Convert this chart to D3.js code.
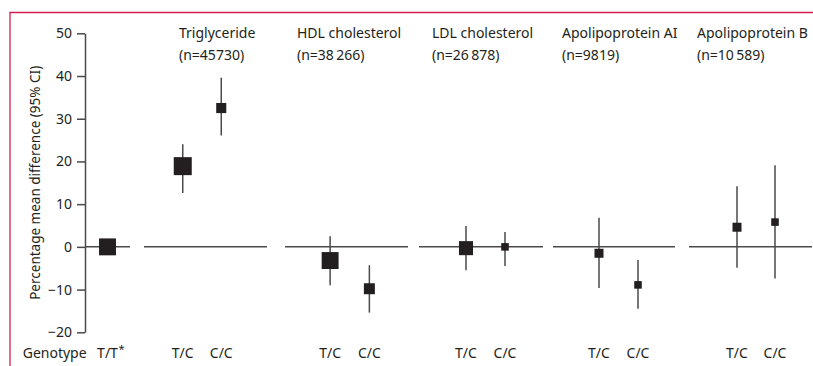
<!DOCTYPE html>
<html>
<head>
<meta charset="utf-8">
<script src="https://cdn.jsdelivr.net/npm/d3@7"></script>
<style>
  body { margin: 0; background: #fff; }
  svg { display: block; }
</style>
</head>
<body>
<div id="chart"></div>
<script>
// outcomes and their sample sizes (column headers)
const outcomes = ["Triglyceride", "HDL cholesterol", "LDL cholesterol", "Apolipoprotein AI", "Apolipoprotein B"];
const sampleLabels = ["(n=45730)", "(n=38\u2009266)", "(n=26\u2009878)", "(n=9819)", "(n=10\u2009589)"];
const genotypes = ["T/C", "C/C"];
const refGenotype = "T/T";

// percentage mean difference vs T/T, with 95% CI
const tcMean = [18.9, -3.2, -0.3, -1.5, 4.6];
const tcLow  = [12.6, -9.0, -5.5, -9.6, -4.9];
const tcHigh = [24.0, 2.5, 4.9, 6.8, 14.2];
const ccMean = [32.5, -9.8, 0.0, -8.9, 5.8];
const ccLow  = [26.1, -15.4, -4.5, -14.5, -7.4];
const ccHigh = [39.6, -4.3, 3.5, -3.1, 19.1];
// relative weight of each estimate (drives square size)
const tcWeight = [100, 94, 78, 50, 50];
const ccWeight = [56, 61, 42, 42, 42];
const refWeight = 94;

const yTicks = [-20, -10, 0, 10, 20, 30, 40, 50];

const width = 813, height = 366;
const ink = "#231f20", lineCol = "#4a4a4a";
const font = "'Noto Sans', 'Open Sans', sans-serif";

// panel layout: zero line extent, band used by the genotype scale, header x
const axisX = 85;
const refPanel = { line: [axisX, 130], band: [axisX, 130] };
const panels = [
  { line: [144, 267], band: [163.5, 240.5], title: 179 },
  { line: [285, 408], band: [310.5, 389], title: 297 },
  { line: [419, 543], band: [446.5, 524.5], title: 432 },
  { line: [553, 675], band: [579.5, 657.5], title: 562 },
  { line: [689, 812], band: [718, 794], title: 697 }
];

const svg = d3.select("#chart").append("svg")
  .attr("width", width)
  .attr("height", height)
  .attr("font-family", font)
  .style("fill", ink);

// red frame
svg.append("path")
  .attr("d", `M10,${height} V12.5 H${width}`)
  .attr("fill", "none")
  .attr("stroke", "#cc2052")
  .attr("stroke-width", 1.3);

const y = d3.scaleLinear().domain([-20, 50]).range([332.3, 33.3]);
const size = d3.scaleLinear().domain([0, 100]).range([0, 18]);

const axis = svg.append("g")
  .attr("transform", `translate(${axisX},0)`)
  .call(d3.axisLeft(y).tickValues(yTicks).tickSize(8).tickSizeOuter(0).tickPadding(5));
axis.selectAll("path, line").attr("stroke", lineCol).attr("stroke-width", 1.5);
axis.selectAll("text")
  .attr("font-size", 14)
  .attr("font-family", font)
  .attr("fill", ink);

svg.append("text")
  .attr("transform", `translate(39.5,${(y(-20) + y(50)) / 2}) rotate(-90)`)
  .attr("text-anchor", "middle")
  .attr("font-size", 13.5)
  .text("Percentage mean difference (95% CI)");

// reference panel (T/T)
const xRef = d3.scalePoint().domain([refGenotype]).range(refPanel.band).padding(0.5);
svg.append("line")
  .attr("x1", refPanel.line[0]).attr("x2", refPanel.line[1])
  .attr("y1", y(0)).attr("y2", y(0))
  .attr("stroke", lineCol).attr("stroke-width", 1.5);
svg.append("rect")
  .attr("x", xRef(refGenotype) - size(refWeight) / 2)
  .attr("y", y(0) - size(refWeight) / 2)
  .attr("width", size(refWeight))
  .attr("height", size(refWeight))
  .attr("fill", ink);

const labelY = 358;
svg.append("text")
  .attr("x", 22.7).attr("y", labelY)
  .attr("font-size", 14)
  .text("Genotype");
const refLabel = svg.append("text")
  .attr("x", xRef(refGenotype)).attr("y", labelY)
  .attr("text-anchor", "middle")
  .attr("font-size", 14)
  .text(refGenotype);
const refW = refLabel.node().getComputedTextLength();
svg.append("text")
  .attr("x", xRef(refGenotype) + refW / 2 + 0.5).attr("y", labelY - 5)
  .attr("font-size", 11)
  .text("*");

panels.forEach((p, i) => {
  const x = d3.scalePoint().domain(genotypes).range(p.band).padding(0.5);
  const g = svg.append("g").attr("class", "panel");

  g.append("line")
    .attr("x1", p.line[0]).attr("x2", p.line[1])
    .attr("y1", y(0)).attr("y2", y(0))
    .attr("stroke", lineCol).attr("stroke-width", 1.5);

  const est = [
    { gt: "T/C", mean: tcMean[i], lo: tcLow[i], hi: tcHigh[i], w: tcWeight[i] },
    { gt: "C/C", mean: ccMean[i], lo: ccLow[i], hi: ccHigh[i], w: ccWeight[i] }
  ];

  g.selectAll(".ci").data(est).join("line")
    .attr("class", "ci")
    .attr("x1", d => x(d.gt)).attr("x2", d => x(d.gt))
    .attr("y1", d => y(d.hi)).attr("y2", d => y(d.lo))
    .attr("stroke", lineCol).attr("stroke-width", 1.5);

  g.selectAll(".pt").data(est).join("rect")
    .attr("class", "pt")
    .attr("x", d => x(d.gt) - size(d.w) / 2)
    .attr("y", d => y(d.mean) - size(d.w) / 2)
    .attr("width", d => size(d.w))
    .attr("height", d => size(d.w))
    .attr("fill", ink);

  g.selectAll(".gt").data(genotypes).join("text")
    .attr("class", "gt")
    .attr("x", d => x(d)).attr("y", labelY)
    .attr("text-anchor", "middle")
    .attr("font-size", 14)
    .text(d => d);

  g.append("text")
    .attr("x", p.title).attr("y", 38)
    .attr("font-size", 14)
    .text(outcomes[i]);
  g.append("text")
    .attr("x", p.title).attr("y", 59.5)
    .attr("font-size", 14)
    .text(sampleLabels[i]);
});
</script>
</body>
</html>
